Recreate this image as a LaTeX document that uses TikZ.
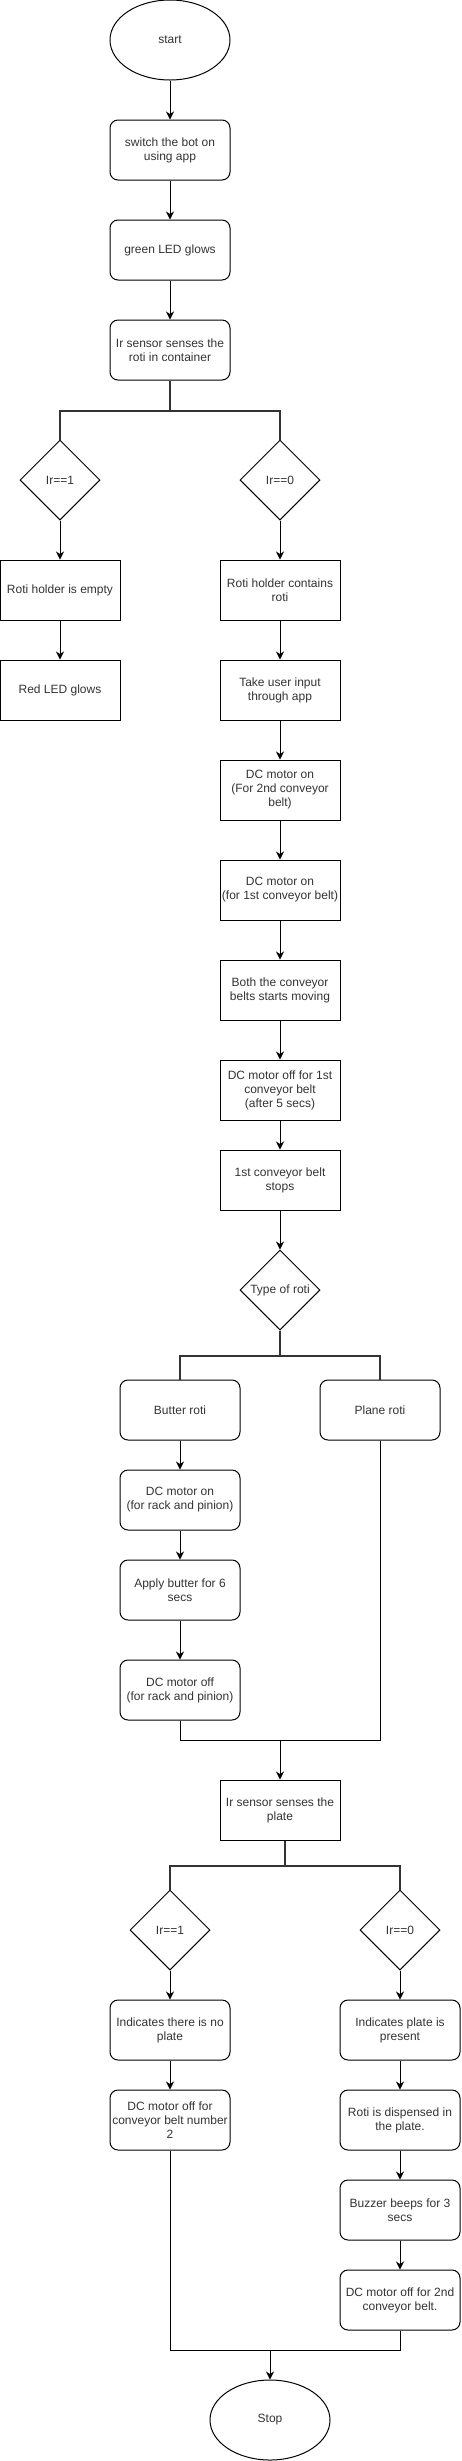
\documentclass[tikz,border=0pt]{standalone}
\usepackage{fontspec}
\setmainfont{Liberation Sans}
\usepackage{tikz}
\usetikzlibrary{shapes.geometric, arrows.meta, positioning}
\definecolor{inkgray}{RGB}{51, 51, 51}

\begin{document}
\begin{tikzpicture}[x=1pt, y=-1pt, line width=1pt,
    every node/.style={font=\fontsize{12}{14}\selectfont, text=inkgray, align=center},
    roundbox/.style={draw, rounded corners=8pt, minimum width=120pt, minimum height=60pt, inner sep=0pt},
    plainbox/.style={draw, minimum width=120pt, minimum height=60pt, inner sep=0pt},
    oval/.style={draw, ellipse, minimum width=120pt, minimum height=80pt, inner sep=0pt},
    choice/.style={draw, diamond, minimum width=80pt, minimum height=80pt, inner sep=0pt},
    arr/.style={-{Stealth[length=8pt, width=8pt, inset=2.5pt]}},
    branch/.style={line width=2pt, draw=inkgray}]
  \useasboundingbox (0,0) rectangle (461,2461);

  % first part
  \node[oval] (start) at (170,40) {start};
  \node[roundbox] (switch) at (170,150) {switch the bot on\\using app};
  \node[roundbox] (green) at (170,250) {green LED glows};
  \node[roundbox] (sense) at (170,350) {Ir sensor senses the\\roti in container};
  \node[choice] (ir1) at (60,480) {Ir==1};
  \node[choice] (ir0) at (280,480) {Ir==0};
  \node[plainbox] (empty) at (60,590) {Roti holder is empty};
  \node[plainbox] (red) at (60,690) {Red LED glows};
  \node[plainbox] (holds) at (280,590) {Roti holder contains\\roti};
  \node[plainbox] (input) at (280,690) {Take user input\\through app};
  \node[plainbox] (on2) at (280,790) {DC motor on\\(For 2nd conveyor\\belt)};
  \node[plainbox] (on1) at (280,890) {DC motor on\\(for 1st conveyor belt)};
  \node[plainbox] (both) at (280,990) {Both the conveyor\\belts starts moving};
  \node[plainbox] (off1) at (280,1090) {DC motor off for 1st\\conveyor belt\\(after 5 secs)};
  \node[plainbox] (stops) at (280,1180) {1st conveyor belt\\stops};

  % type of roti
  \node[choice] (type) at (280,1290) {Type of roti};
  \node[roundbox] (butter) at (180,1410) {Butter roti};
  \node[roundbox] (plane) at (380,1410) {Plane roti};
  \node[roundbox] (rackon) at (180,1500) {DC motor on\\(for rack and pinion)};
  \node[roundbox] (apply) at (180,1590) {Apply butter for 6\\secs};
  \node[roundbox] (rackoff) at (180,1690) {DC motor off\\(for rack and pinion)};
  \coordinate (join1) at (280,1740);

  % plate
  \node[plainbox] (plate) at (280,1810) {Ir sensor senses the\\plate};
  \node[choice] (pir1) at (170,1930) {Ir==1};
  \node[choice] (pir0) at (400,1930) {Ir==0};
  \node[roundbox] (noplate) at (170,2030) {Indicates there is no\\plate};
  \node[roundbox] (offnum) at (170,2120) {DC motor off for\\conveyor belt number\\2};
  \node[roundbox] (present) at (400,2030) {Indicates plate is\\present};
  \node[roundbox] (dispense) at (400,2120) {Roti is dispensed in\\the plate.};
  \node[roundbox] (buzz) at (400,2210) {Buzzer beeps for 3\\secs};
  \node[roundbox] (off2) at (400,2300) {DC motor off for 2nd\\conveyor belt.};
  \coordinate (join2) at (270,2350);
  \node[oval] (stop) at (270,2420) {Stop};

  \draw[arr] (start) -- (switch);
  \draw[arr] (switch) -- (green);
  \draw[arr] (green) -- (sense);
  \draw[branch] (sense.south) -- ++(0,30) -| (ir1.north);
  \draw[branch] (sense.south) -- ++(0,30) -| (ir0.north);
  \draw[arr] (ir1) -- (empty);
  \draw[arr] (empty) -- (red);
  \draw[arr] (ir0) -- (holds);
  \draw[arr] (holds) -- (input);
  \draw[arr] (input) -- (on2);
  \draw[arr] (on2) -- (on1);
  \draw[arr] (on1) -- (both);
  \draw[arr] (both) -- (off1);
  \draw[arr] (off1) -- (stops);
  \draw[arr] (stops) -- (type);
  \draw[branch] (type.south) -- ++(0,25) -| (butter.north);
  \draw[branch] (type.south) -- ++(0,25) -| (plane.north);
  \draw[arr] (butter) -- (rackon);
  \draw[arr] (rackon) -- (apply);
  \draw[arr] (apply) -- (rackoff);
  \draw (rackoff.south) |- (join1);
  \draw (plane.south) |- (join1);
  \draw[arr] (join1) -- (plate);
  \draw[branch] ([xshift=5pt]plate.south) -- ++(0,25) -| (pir1.north);
  \draw[branch] ([xshift=5pt]plate.south) -- ++(0,25) -| (pir0.north);
  \draw[arr] (pir1) -- (noplate);
  \draw[arr] (noplate) -- (offnum);
  \draw[arr] (pir0) -- (present);
  \draw[arr] (present) -- (dispense);
  \draw[arr] (dispense) -- (buzz);
  \draw[arr] (buzz) -- (off2);
  \draw (offnum.south) |- (join2);
  \draw (off2.south) |- (join2);
  \draw[arr] (join2) -- (stop);
\end{tikzpicture}
\end{document}
